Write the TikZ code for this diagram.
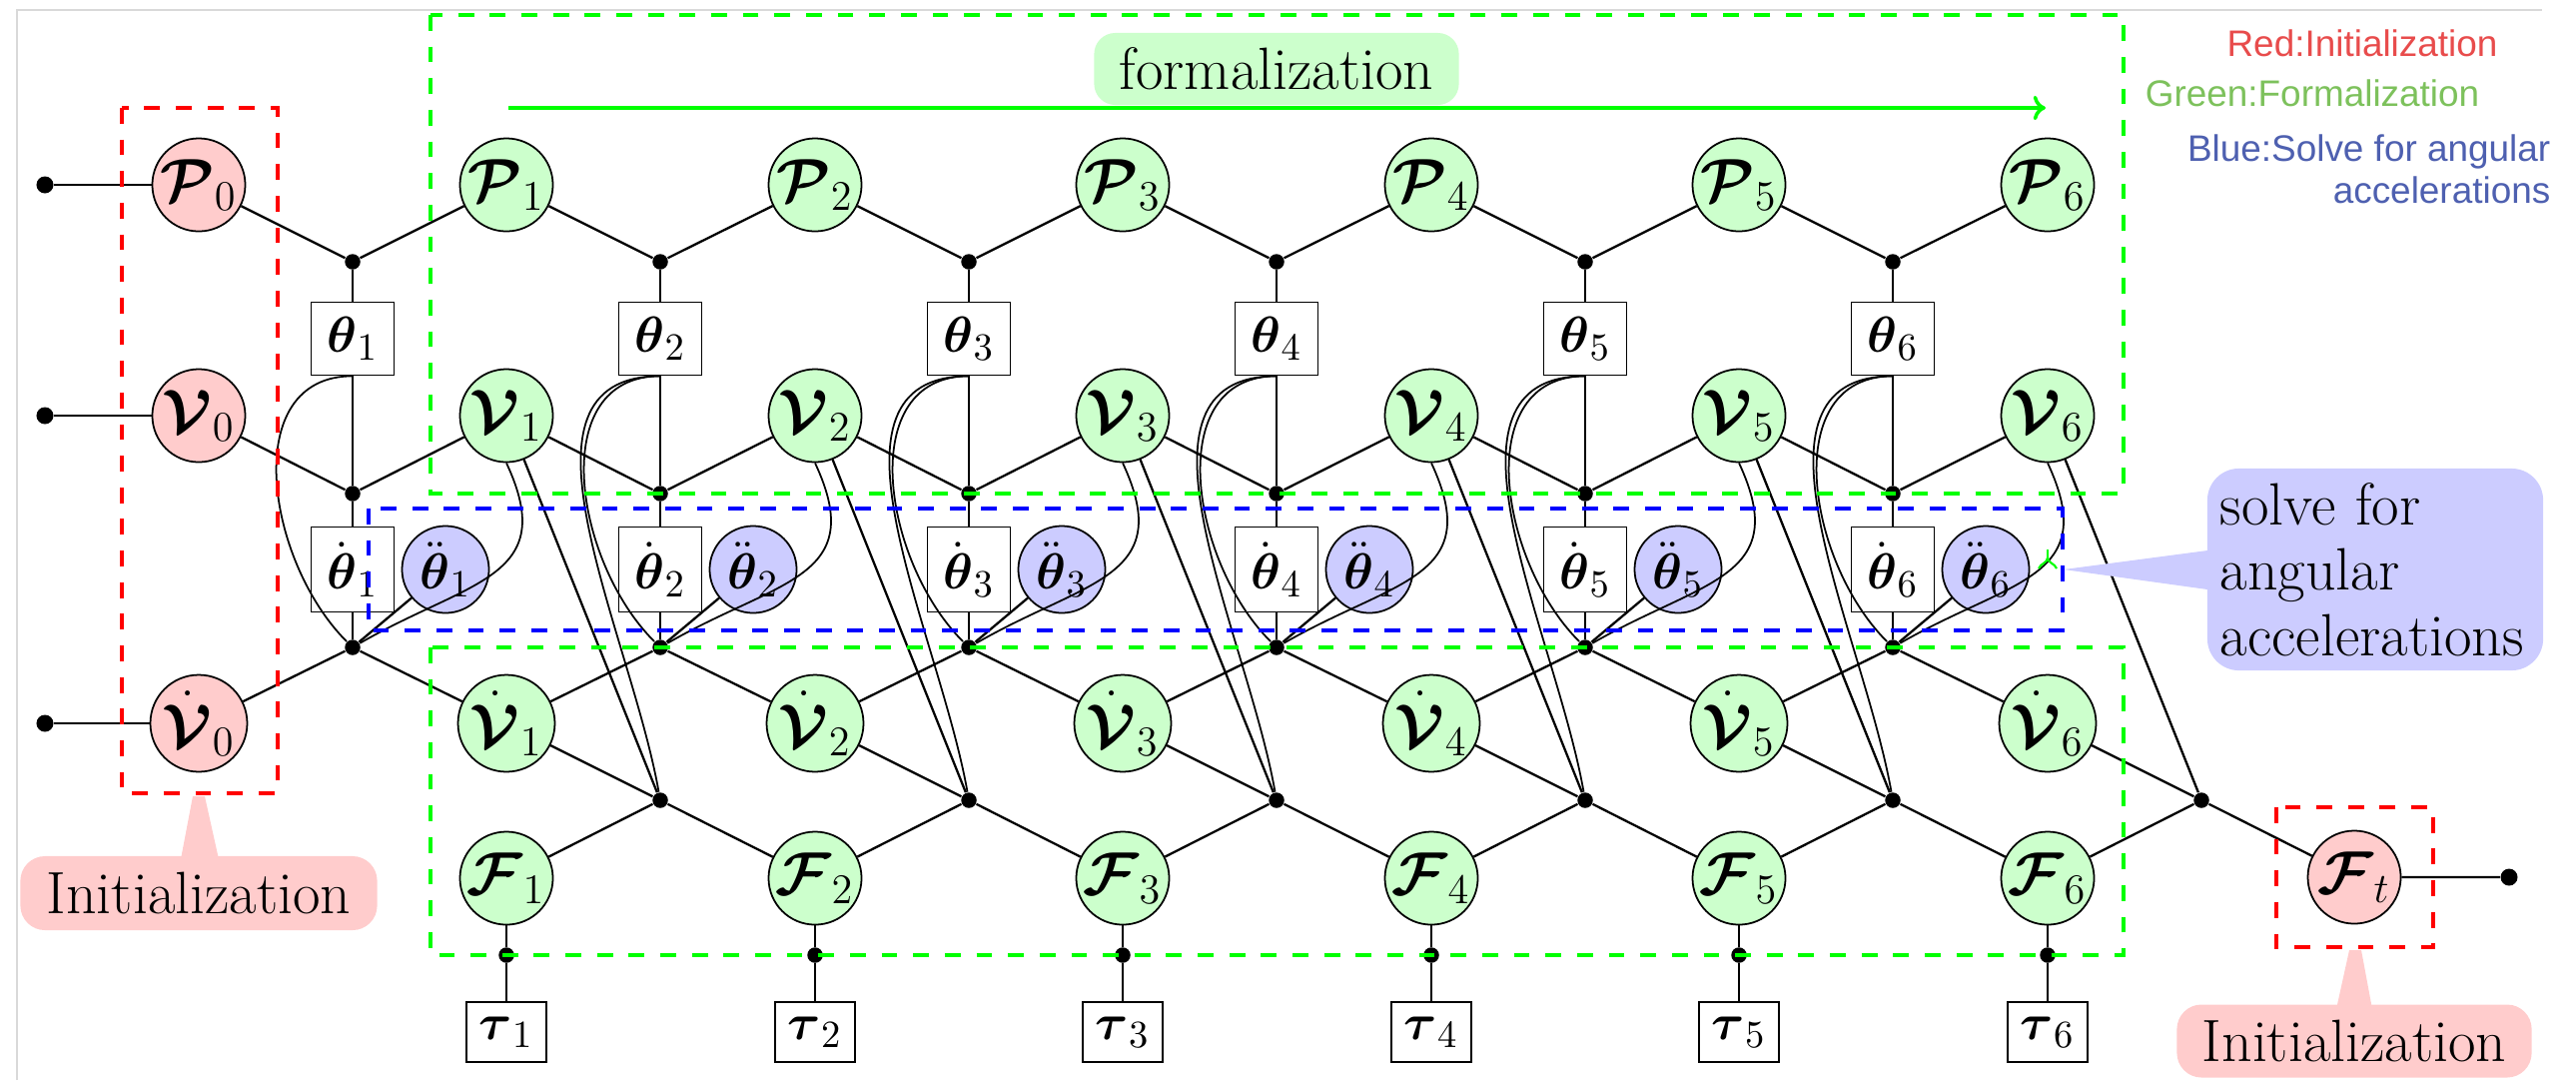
\documentclass[tikz,border=0pt]{standalone}
\usepackage{amsmath}
\usepackage{amssymb}
\usepackage{fontspec}
\usepackage{tikz}
\usetikzlibrary{arrows.meta}
\newfontfamily\legendfont{Liberation Sans}
\definecolor{legred}{RGB}{232,76,76}
\definecolor{leggreen}{RGB}{125,193,92}
\definecolor{legblue}{RGB}{78,96,176}

\begin{document}
\begin{tikzpicture}[x=0.01cm, y=0.01cm]
	\tikzstyle{every node}+=[inner sep=0pt, font=\fontsize{17}{18.6}\selectfont]
	\tikzstyle{var}=[circle, draw=black, line width=0.5pt, minimum size=0.93cm]
	\tikzstyle{initvar}=[var, fill=red!20]
	\tikzstyle{formvar}=[var, fill=green!20]
	\tikzstyle{accvar}=[var, fill=blue!20, minimum size=0.87cm, font=\fontsize{15.5}{18}\selectfont]
	\tikzstyle{jointbox}=[rectangle, draw=black, fill=white, line width=0.5pt, minimum width=0.83cm, font=\fontsize{15.5}{18}\selectfont]
	\tikzstyle{posbox}=[jointbox, minimum height=0.73cm]
	\tikzstyle{velbox}=[jointbox, minimum height=0.85cm]
	\tikzstyle{torquebox}=[jointbox, minimum width=0.8cm, minimum height=0.6cm]
	\tikzstyle{fac}=[circle, fill=black, minimum size=0.155cm]
	\tikzstyle{inport}=[circle, fill=black, minimum size=0.17cm]
	\tikzstyle{link}=[black, line width=0.65pt]
	\tikzstyle{curvelink}=[black, line width=0.5pt]
	\tikzstyle{initbox}=[red, line width=0.9pt, dash pattern=on 4.5pt off 4.5pt]
	\tikzstyle{formbox}=[green, line width=0.9pt, dash pattern=on 4.5pt off 4.5pt]
	\tikzstyle{solvebox}=[blue, line width=0.9pt, dash pattern=on 4.5pt off 4.5pt]
	\tikzstyle{note}=[rounded corners=7pt]
	\tikzstyle{legend}=[font=\legendfont\fontsize{10.5}{12}\selectfont]
	\useasboundingbox (0,0) rectangle (2579,-1081);
	\draw [black!15, line width=0.6pt] (17,-1081) -- (17,-10) -- (2545,-10);
	% inputs
	\node [inport] (inP) at (45,-185) {};
	\node [inport] (inV) at (45,-416) {};
	\node [inport] (inA) at (45,-724) {};
	\node [inport] (outF) at (2512,-878) {};
	% poses
	\node [initvar] (p0) at (199,-185) {$\boldsymbol{\mathcal{P}}_0$};
	\node [formvar] (p1) at (507,-185) {$\boldsymbol{\mathcal{P}}_1$};
	\node [formvar] (p2) at (816,-185) {$\boldsymbol{\mathcal{P}}_2$};
	\node [formvar] (p3) at (1124,-185) {$\boldsymbol{\mathcal{P}}_3$};
	\node [formvar] (p4) at (1433,-185) {$\boldsymbol{\mathcal{P}}_4$};
	\node [formvar] (p5) at (1741,-185) {$\boldsymbol{\mathcal{P}}_5$};
	\node [formvar] (p6) at (2050,-185) {$\boldsymbol{\mathcal{P}}_6$};
	% twists
	\node [initvar] (v0) at (199,-416) {$\boldsymbol{\mathcal{V}}_0$};
	\node [formvar] (v1) at (507,-416) {$\boldsymbol{\mathcal{V}}_1$};
	\node [formvar] (v2) at (816,-416) {$\boldsymbol{\mathcal{V}}_2$};
	\node [formvar] (v3) at (1124,-416) {$\boldsymbol{\mathcal{V}}_3$};
	\node [formvar] (v4) at (1433,-416) {$\boldsymbol{\mathcal{V}}_4$};
	\node [formvar] (v5) at (1741,-416) {$\boldsymbol{\mathcal{V}}_5$};
	\node [formvar] (v6) at (2050,-416) {$\boldsymbol{\mathcal{V}}_6$};
	% accelerations
	\node [initvar] (a0) at (199,-724) {$\dot{\boldsymbol{\mathcal{V}}}_0$};
	\node [formvar] (a1) at (507,-724) {$\dot{\boldsymbol{\mathcal{V}}}_1$};
	\node [formvar] (a2) at (816,-724) {$\dot{\boldsymbol{\mathcal{V}}}_2$};
	\node [formvar] (a3) at (1124,-724) {$\dot{\boldsymbol{\mathcal{V}}}_3$};
	\node [formvar] (a4) at (1433,-724) {$\dot{\boldsymbol{\mathcal{V}}}_4$};
	\node [formvar] (a5) at (1741,-724) {$\dot{\boldsymbol{\mathcal{V}}}_5$};
	\node [formvar] (a6) at (2050,-724) {$\dot{\boldsymbol{\mathcal{V}}}_6$};
	% wrenches
	\node [formvar] (f1) at (507,-879) {$\boldsymbol{\mathcal{F}}_1$};
	\node [formvar] (f2) at (816,-879) {$\boldsymbol{\mathcal{F}}_2$};
	\node [formvar] (f3) at (1124,-879) {$\boldsymbol{\mathcal{F}}_3$};
	\node [formvar] (f4) at (1433,-879) {$\boldsymbol{\mathcal{F}}_4$};
	\node [formvar] (f5) at (1741,-879) {$\boldsymbol{\mathcal{F}}_5$};
	\node [formvar] (f6) at (2050,-879) {$\boldsymbol{\mathcal{F}}_6$};
	\node [initvar] (ft) at (2357,-878) {$\boldsymbol{\mathcal{F}}_t$};
	% joint angles
	\node [posbox] (th1) at (353,-339) {$\boldsymbol{\theta}_1$};
	\node [posbox] (th2) at (661,-339) {$\boldsymbol{\theta}_2$};
	\node [posbox] (th3) at (970,-339) {$\boldsymbol{\theta}_3$};
	\node [posbox] (th4) at (1278,-339) {$\boldsymbol{\theta}_4$};
	\node [posbox] (th5) at (1587,-339) {$\boldsymbol{\theta}_5$};
	\node [posbox] (th6) at (1895,-339) {$\boldsymbol{\theta}_6$};
	\node [velbox] (thd1) at (353,-570) {$\dot{\boldsymbol{\theta}}_1$};
	\node [velbox] (thd2) at (661,-570) {$\dot{\boldsymbol{\theta}}_2$};
	\node [velbox] (thd3) at (970,-570) {$\dot{\boldsymbol{\theta}}_3$};
	\node [velbox] (thd4) at (1278,-570) {$\dot{\boldsymbol{\theta}}_4$};
	\node [velbox] (thd5) at (1587,-570) {$\dot{\boldsymbol{\theta}}_5$};
	\node [velbox] (thd6) at (1895,-570) {$\dot{\boldsymbol{\theta}}_6$};
	\node [accvar] (thdd1) at (446,-570) {$\ddot{\boldsymbol{\theta}}_1$};
	\node [accvar] (thdd2) at (754,-570) {$\ddot{\boldsymbol{\theta}}_2$};
	\node [accvar] (thdd3) at (1063,-570) {$\ddot{\boldsymbol{\theta}}_3$};
	\node [accvar] (thdd4) at (1371,-570) {$\ddot{\boldsymbol{\theta}}_4$};
	\node [accvar] (thdd5) at (1680,-570) {$\ddot{\boldsymbol{\theta}}_5$};
	\node [accvar] (thdd6) at (1988,-570) {$\ddot{\boldsymbol{\theta}}_6$};
	\node [torquebox] (tq1) at (507,-1033) {$\boldsymbol{\tau}_1$};
	\node [torquebox] (tq2) at (816,-1033) {$\boldsymbol{\tau}_2$};
	\node [torquebox] (tq3) at (1124,-1033) {$\boldsymbol{\tau}_3$};
	\node [torquebox] (tq4) at (1433,-1033) {$\boldsymbol{\tau}_4$};
	\node [torquebox] (tq5) at (1741,-1033) {$\boldsymbol{\tau}_5$};
	\node [torquebox] (tq6) at (2050,-1033) {$\boldsymbol{\tau}_6$};
	% factors
	\node [fac] (jp1) at (353,-262) {};
	\node [fac] (jp2) at (661,-262) {};
	\node [fac] (jp3) at (970,-262) {};
	\node [fac] (jp4) at (1278,-262) {};
	\node [fac] (jp5) at (1587,-262) {};
	\node [fac] (jp6) at (1895,-262) {};
	\node [fac] (jv1) at (353,-494) {};
	\node [fac] (jv2) at (661,-494) {};
	\node [fac] (jv3) at (970,-494) {};
	\node [fac] (jv4) at (1278,-494) {};
	\node [fac] (jv5) at (1587,-494) {};
	\node [fac] (jv6) at (1895,-494) {};
	\node [fac] (ja1) at (353,-648) {};
	\node [fac] (ja2) at (661,-648) {};
	\node [fac] (ja3) at (970,-648) {};
	\node [fac] (ja4) at (1278,-648) {};
	\node [fac] (ja5) at (1587,-648) {};
	\node [fac] (ja6) at (1895,-648) {};
	\node [fac] (jf2) at (661,-801) {};
	\node [fac] (jf3) at (970,-801) {};
	\node [fac] (jf4) at (1278,-801) {};
	\node [fac] (jf5) at (1587,-801) {};
	\node [fac] (jf6) at (1895,-801) {};
	\node [fac] (jf7) at (2204,-801) {};
	\node [fac] (tqj1) at (507,-956) {};
	\node [fac] (tqj2) at (816,-956) {};
	\node [fac] (tqj3) at (1124,-956) {};
	\node [fac] (tqj4) at (1433,-956) {};
	\node [fac] (tqj5) at (1741,-956) {};
	\node [fac] (tqj6) at (2050,-956) {};
	% edges
	\draw [link] (inP) -- (p0);
	\draw [link] (inV) -- (v0);
	\draw [link] (inA) -- (a0);
	\draw [link] (p0) -- (jp1) -- (p1) -- (jp2) -- (p2) -- (jp3) -- (p3) -- (jp4) -- (p4) -- (jp5) -- (p5) -- (jp6) -- (p6);
	\draw [link] (v0) -- (jv1) -- (v1) -- (jv2) -- (v2) -- (jv3) -- (v3) -- (jv4) -- (v4) -- (jv5) -- (v5) -- (jv6) -- (v6);
	\draw [link] (a0) -- (ja1) -- (a1) -- (ja2) -- (a2) -- (ja3) -- (a3) -- (ja4) -- (a4) -- (ja5) -- (a5) -- (ja6) -- (a6);
	\draw [link] (f1) -- (jf2) -- (f2) -- (jf3) -- (f3) -- (jf4) -- (f4) -- (jf5) -- (f5) -- (jf6) -- (f6) -- (jf7) -- (ft) -- (outF);
	\draw [link] (jp1) -- (th1) -- (jv1) -- (thd1) -- (ja1);
	\draw [link] (jp2) -- (th2) -- (jv2) -- (thd2) -- (ja2);
	\draw [link] (jp3) -- (th3) -- (jv3) -- (thd3) -- (ja3);
	\draw [link] (jp4) -- (th4) -- (jv4) -- (thd4) -- (ja4);
	\draw [link] (jp5) -- (th5) -- (jv5) -- (thd5) -- (ja5);
	\draw [link] (jp6) -- (th6) -- (jv6) -- (thd6) -- (ja6);
	\draw [link] (thdd1) -- (ja1);
	\draw [link] (thdd2) -- (ja2);
	\draw [link] (thdd3) -- (ja3);
	\draw [link] (thdd4) -- (ja4);
	\draw [link] (thdd5) -- (ja5);
	\draw [link] (thdd6) -- (ja6);
	\draw [link] (a1) -- (jf2);
	\draw [link] (a2) -- (jf3);
	\draw [link] (a3) -- (jf4);
	\draw [link] (a4) -- (jf5);
	\draw [link] (a5) -- (jf6);
	\draw [link] (a6) -- (jf7);
	\draw [link] (v1) -- (jf2);
	\draw [link] (v2) -- (jf3);
	\draw [link] (v3) -- (jf4);
	\draw [link] (v4) -- (jf5);
	\draw [link] (v5) -- (jf6);
	\draw [link] (v6) -- (jf7);
	\draw [link] (f1) -- (tqj1) -- (tq1);
	\draw [link] (f2) -- (tqj2) -- (tq2);
	\draw [link] (f3) -- (tqj3) -- (tq3);
	\draw [link] (f4) -- (tqj4) -- (tq4);
	\draw [link] (f5) -- (tqj5) -- (tq5);
	\draw [link] (f6) -- (tqj6) -- (tq6);
	\draw [curvelink] (th1.south) to[out=180, in=135, looseness=1.1] (ja1);
	\draw [curvelink] (th2.south) to[out=180, in=135, looseness=1.1] (ja2);
	\draw [curvelink] (th3.south) to[out=180, in=135, looseness=1.1] (ja3);
	\draw [curvelink] (th4.south) to[out=180, in=135, looseness=1.1] (ja4);
	\draw [curvelink] (th5.south) to[out=180, in=135, looseness=1.1] (ja5);
	\draw [curvelink] (th6.south) to[out=180, in=135, looseness=1.1] (ja6);
	\draw [curvelink] (th2.south) to[out=180, in=100] (jf2);
	\draw [curvelink] (th3.south) to[out=180, in=100] (jf3);
	\draw [curvelink] (th4.south) to[out=180, in=100] (jf4);
	\draw [curvelink] (th5.south) to[out=180, in=100] (jf5);
	\draw [curvelink] (th6.south) to[out=180, in=100] (jf6);
	\draw [curvelink] (v1.south) to[out=-65, in=30, looseness=1.4] (ja1);
	\draw [curvelink] (v2.south) to[out=-65, in=30, looseness=1.4] (ja2);
	\draw [curvelink] (v3.south) to[out=-65, in=30, looseness=1.4] (ja3);
	\draw [curvelink] (v4.south) to[out=-65, in=30, looseness=1.4] (ja4);
	\draw [curvelink] (v5.south) to[out=-65, in=30, looseness=1.4] (ja5);
	\draw [curvelink] (v6.south) to[out=-65, in=30, looseness=1.4] (ja6);
	% notes
	\node [note, fill=green!20, rounded corners=6pt, minimum width=3.65cm, minimum height=0.72cm] (form) at (1278,-69) {formalization};
	\coordinate (fstart) at (509,-108);
	\coordinate (fend) at (2048,-108);
	\draw [green, line width=1pt, -{To[length=3.5pt,width=7pt]}] (fstart) -- (fend);
	\node [note, fill=red!20, minimum width=3.57cm, minimum height=0.74cm] (initl) at (199,-894) {Initialization};
	\fill [red!20] (181,-860) -- (193,-797) -- (205,-797) -- (219,-860) -- cycle;
	\node [note, fill=red!20, minimum width=3.55cm, minimum height=0.73cm] (initr) at (2357,-1042) {Initialization};
	\fill [red!20] (2339,-1010) -- (2352,-951) -- (2364,-951) -- (2375,-1010) -- cycle;
	\node [note, fill=blue!20, rounded corners=9pt, minimum width=3.36cm, minimum height=2.02cm, text width=3.1cm, align=left] (solve) at (2378,-570) {solve for\\angular\\accelerations};
	\fill [blue!20] (2210,-551) -- (2066,-570) -- (2210,-590) -- cycle;
	\draw [green, line width=0.6pt] (2041,-569) to[out=70, in=-90] (2050,-558) to[out=-90, in=110] (2059,-569);
	\draw [green, line width=0.6pt] (2050,-558) -- (2050,-550);
	% groups
	\draw [initbox] (122,-108) rectangle (278,-794);
	\draw [initbox] (2279,-808) rectangle (2436,-948);
	\draw [formbox] (431,-15) rectangle (2126,-494);
	\draw [formbox] (431,-648) rectangle (2126,-956);
	\draw [solvebox] (369,-509) rectangle (2065,-631);
	% legend
	\node [legend, text=legred] (legr) at (2365,-43) {Red:Initialization};
	\node [legend, text=leggreen] (legg) at (2315,-93) {Green:Formalization};
	\node [legend, text=legblue, align=right, anchor=east] (legb) at (2554,-169) {Blue:Solve for angular\\accelerations};
\end{tikzpicture}
\end{document}
